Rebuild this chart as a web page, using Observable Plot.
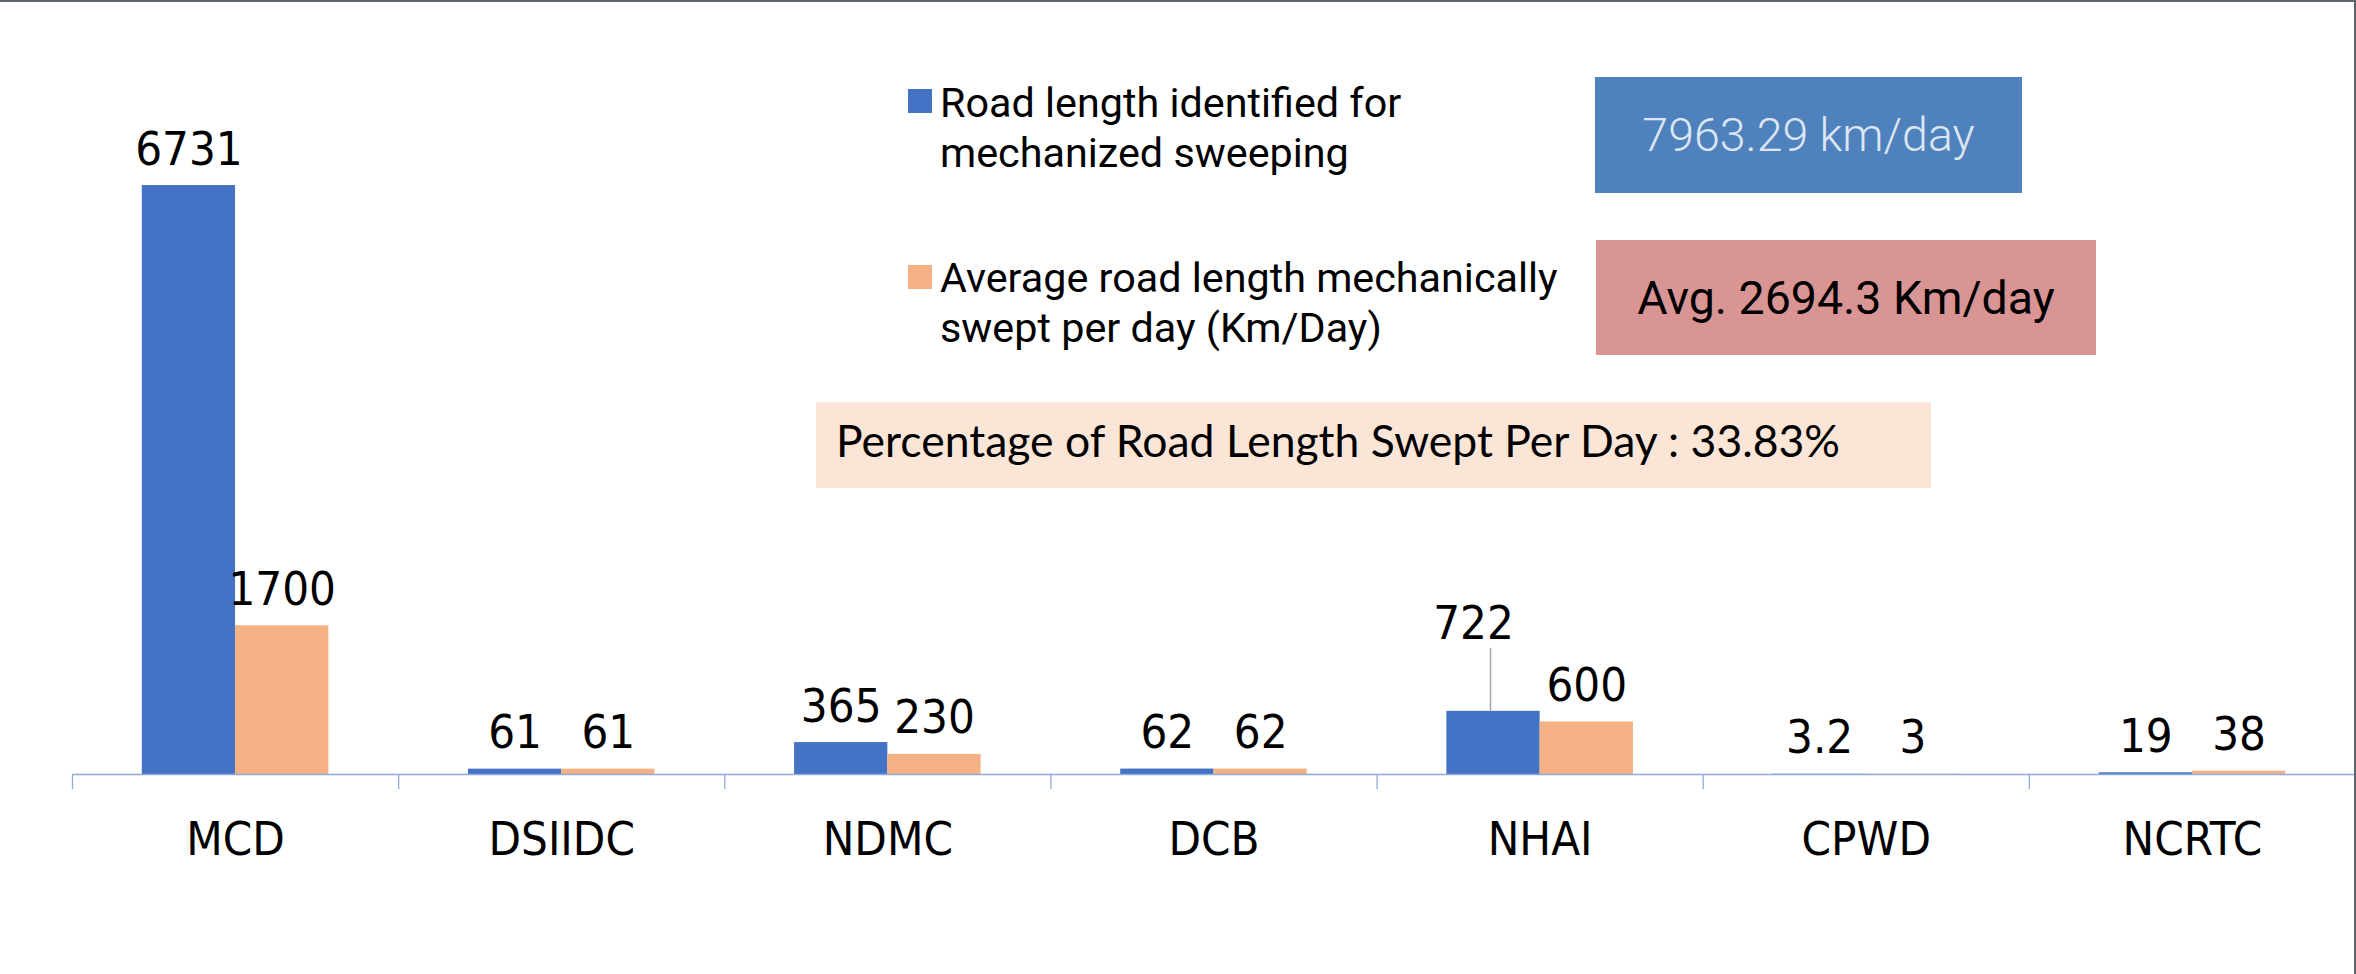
<!DOCTYPE html>
<html>
<head>
<meta charset="utf-8">
<script src="https://cdn.jsdelivr.net/npm/d3@7"></script>
<script src="https://cdn.jsdelivr.net/npm/@observablehq/plot@0.6"></script>
<style>
  html, body { margin: 0; padding: 0; background: #fff; }
  #wrap { position: relative; width: 2356px; height: 974px; overflow: hidden; background: #fff; }
  #chart { position: absolute; left: 0; top: 0; }
  .bt { position: absolute; left: 0; top: 0; width: 2356px; height: 2px; background: #5f656e; }
  .br { position: absolute; right: 0; top: 0; width: 2px; height: 974px; background: #5f656e; }
  .sw { position: absolute; left: 908px; width: 24px; height: 24px; }
  .lg { position: absolute; left: 940px; font-family: Roboto, "Open Sans", sans-serif; font-size: 41.3px; line-height: 50px; color: #000; white-space: nowrap; }
  .box { position: absolute; display: flex; align-items: center; justify-content: center; font-family: Roboto, sans-serif; font-size: 46.5px; white-space: nowrap; }
  .pct { position: absolute; left: 816px; top: 402px; width: 1115px; height: 86px; background: #fbe5d6; }
  .pct span { position: absolute; left: 20px; top: 1px; font-family: Lato, "Open Sans", sans-serif; font-size: 44.5px; line-height: 74px; color: #000; white-space: nowrap; }
</style>
</head>
<body>
<div id="wrap">
  <div id="chart"></div>
  <div class="sw" id="sw1" style="top:89px;"></div>
  <div class="lg" id="lg1" style="top:78px;"></div>
  <div class="sw" id="sw2" style="top:265px;"></div>
  <div class="lg" id="lg2" style="top:253px;"></div>
  <div class="box" id="box1" style="left:1595px;top:77px;width:427px;height:116px;background:#4f81bd;color:#dce6f2;font-weight:300;"></div>
  <div class="box" id="box2" style="left:1596px;top:240px;width:500px;height:115px;background:#d99594;color:#000;"></div>
  <div class="pct"><span id="pct"></span></div>
  <div class="bt"></div>
  <div class="br"></div>
</div>
<script>
// ---- data ----
const categories = ["MCD", "DSIIDC", "NDMC", "DCB", "NHAI", "CPWD", "NCRTC"];
const identified = [6731, 61, 365, 62, 722, 3.2, 19];
const swept = [1700, 61, 230, 62, 600, 3, 38];
const seriesNames = ["Road length identified for mechanized sweeping", "Average road length mechanically swept per day (Km/Day)"];
const legendLines = [["Road length identified for", "mechanized sweeping"], ["Average road length mechanically", "swept per day (Km/Day)"]];
const seriesColors = ["#4472c4", "#f4b183"];
const boxIdentified = "7963.29 km/day";
const boxSwept = "Avg. 2694.3 Km/day";
const percentText = "Percentage of Road Length Swept Per Day : 33.83%";
const yMax = 8000;

// ---- table ----
const barShare = 0.286;
const rows = [];
categories.forEach((c, i) => {
  rows.push({cat: c, idx: i, s: 0, series: seriesNames[0], value: identified[i]});
  rows.push({cat: c, idx: i, s: 1, series: seriesNames[1], value: swept[i]});
});
const x1 = d => d.idx + 0.5 - (d.s === 0 ? barShare : 0);
const x2 = d => x1(d) + barShare;
const xc = d => x1(d) + barShare / 2;
const isLifted = d => d.cat === "NHAI" && d.s === 0;

const numFont = '"Liberation Sans Narrow", "DejaVu Sans Condensed", Roboto, sans-serif';

const chart = Plot.plot({
  width: 2356,
  height: 974,
  marginLeft: 72,
  marginRight: 1,
  marginTop: 74,
  marginBottom: 200,
  style: {background: "transparent", fontFamily: numFont, color: "#000"},
  x: {domain: [0, categories.length], label: null},
  y: {domain: [0, yMax], axis: null},
  color: {domain: seriesNames, range: seriesColors},
  marks: [
    Plot.rectY(rows, {x1, x2, y: "value", fill: "series"}),
    Plot.ruleY([0], {stroke: "#8faadc", strokeWidth: 1.6}),
    Plot.axisX(d3.range(0, categories.length + 1), {tickSize: 15, tickFormat: () => "", stroke: "#8faadc", strokeWidth: 1.3, label: null}),
    Plot.text(categories, {x: (d, i) => i + 0.5, frameAnchor: "bottom", lineAnchor: "bottom", dy: 80, fontSize: 47, fontFamily: numFont, fill: "#000"}),
    Plot.text(rows.filter(d => !isLifted(d)), {x: xc, y: "value", text: d => String(d.value), lineAnchor: "bottom", dy: -21, fontSize: 47, fontFamily: numFont, fill: "#000"}),
    Plot.text(rows.filter(isLifted), {x: xc, y: "value", text: d => String(d.value), lineAnchor: "bottom", dx: -20, dy: -72, fontSize: 47, fontFamily: numFont, fill: "#000"}),
    Plot.ruleX(rows.filter(isLifted), {x: xc, y1: "value", y2: "value", insetTop: -63, dx: -3, stroke: "#a6a6a6", strokeWidth: 1.5})
  ]
});
document.getElementById("chart").appendChild(chart);

// ---- annotations ----
document.getElementById("sw1").style.background = seriesColors[0];
document.getElementById("sw2").style.background = seriesColors[1];
document.getElementById("lg1").innerHTML = legendLines[0].join("<br>");
document.getElementById("lg2").innerHTML = legendLines[1].join("<br>");
document.getElementById("box1").textContent = boxIdentified;
document.getElementById("box2").textContent = boxSwept;
document.getElementById("pct").textContent = percentText;
</script>
</body>
</html>
